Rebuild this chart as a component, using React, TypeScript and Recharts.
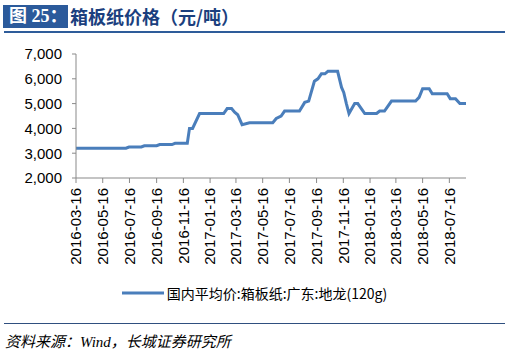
import React from 'react';
import { LineChart, Line, XAxis, YAxis, Legend } from 'recharts';

const dates = [
  '2016-03-16', '2016-07-08', '2016-07-15', '2016-08-12', '2016-08-19', '2016-09-16', '2016-09-23',
  '2016-10-21', '2016-10-28', '2016-11-25', '2016-11-30', '2016-12-07', '2016-12-23', '2017-02-16',
  '2017-02-24', '2017-03-06', '2017-03-13', '2017-03-20', '2017-03-30', '2017-04-16', '2017-06-08',
  '2017-06-16', '2017-06-27', '2017-07-05', '2017-08-08', '2017-08-20', '2017-08-29', '2017-09-11',
  '2017-09-19', '2017-09-27', '2017-10-05', '2017-10-12', '2017-11-03', '2017-11-12', '2017-11-17',
  '2017-11-23', '2017-11-29', '2017-12-12', '2017-12-19', '2018-01-04', '2018-01-31', '2018-02-07',
  '2018-02-18', '2018-03-06', '2018-04-30', '2018-05-08', '2018-05-16', '2018-05-31', '2018-06-07',
  '2018-07-11', '2018-07-18', '2018-07-30', '2018-08-09', '2018-08-23',
];

const prices = [
  3200, 3200, 3250, 3250, 3300, 3300, 3350,
  3350, 3400, 3400, 4000, 4000, 4600, 4600,
  4800, 4800, 4650, 4550, 4150, 4230, 4230,
  4400, 4500, 4700, 4700, 5050, 5100, 5900,
  6000, 6200, 6200, 6300, 6300, 5650, 5450,
  5000, 4600, 5000, 5000, 4600, 4600, 4700,
  4700, 5100, 5100, 5250, 5600, 5600, 5400,
  5400, 5200, 5200, 5000, 5000,
];

const xTickLabels = [
  '2016-03-16', '2016-05-16', '2016-07-16', '2016-09-16', '2016-11-16', '2017-01-16', '2017-03-16',
  '2017-05-16', '2017-07-16', '2017-09-16', '2017-11-16', '2018-01-16', '2018-03-16', '2018-05-16',
  '2018-07-16',
];

const yTicks = [2000, 3000, 4000, 5000, 6000, 7000];

const seriesName = '国内平均价:箱板纸:广东:地龙(120g)';
const titleLabel = '图 25：';
const titleText = '箱板纸价格（元/吨）';
const sourceText = '资料来源：Wind，长城证券研究所';

const toTs = (d: string) => Date.parse(d + 'T00:00:00Z');

const data = dates.map((d, i) => ({ t: toTs(d), v: prices[i] }));
const xTicks = xTickLabels.map(toTs);
const labelFor = (ts: number) => {
  const i = xTicks.indexOf(ts);
  return i >= 0 ? xTickLabels[i] : '';
};

const LINE_COLOR = '#4A7EBB';
const AXIS_COLOR = '#898989';
const TICK_FONT = '"Liberation Sans", Arial, sans-serif';

const XTick = (props: any) => {
  const { x, y, payload } = props;
  return (
    <text
      x={x}
      y={y}
      transform={`rotate(-90, ${x}, ${y})`}
      textAnchor="end"
      dy="0.35em"
      fontSize={15}
      fontFamily={TICK_FONT}
      fill="#000"
    >
      {labelFor(payload.value)}
    </text>
  );
};

const LegendContent = () => (
  <div style={{ display: 'flex', alignItems: 'center', justifyContent: 'center' }}>
    <svg width={42} height={8} style={{ display: 'block' }}>
      <line x1={0} y1={4} x2={42} y2={4} stroke={LINE_COLOR} strokeWidth={3} />
    </svg>
    <span
      style={{
        marginLeft: 3,
        fontSize: 14,
        fontFamily: '"Noto Sans CJK SC", "Noto Sans", sans-serif',
        color: '#000',
        lineHeight: '18px',
      }}
    >
      {seriesName}
    </span>
  </div>
);

export default function App() {
  return (
    <div
      style={{
        position: 'absolute',
        left: 0,
        top: 0,
        width: 509,
        height: 358,
        background: '#fff',
        overflow: 'hidden',
      }}
    >
      {/* title */}
      <div
        style={{
          position: 'absolute',
          left: 3,
          top: 5,
          width: 65,
          height: 23,
          background: '#2B5A9B',
          color: '#fff',
          fontWeight: 'bold',
          fontSize: 18,
          lineHeight: '23px',
          fontFamily: '"Liberation Serif", "Noto Sans CJK SC", serif',
          paddingLeft: 6,
          boxSizing: 'border-box',
          whiteSpace: 'nowrap',
        }}
      >
        {titleLabel}
      </div>
      <div
        style={{
          position: 'absolute',
          left: 70,
          top: 5,
          height: 23,
          color: '#1B3F7E',
          fontWeight: 'bold',
          fontSize: 18,
          lineHeight: '23px',
          fontFamily: '"Noto Sans CJK SC", serif',
          whiteSpace: 'nowrap',
        }}
      >
        {titleText}
      </div>
      <div
        style={{ position: 'absolute', left: 4, top: 31, width: 501, height: 2, background: '#2E5C9A' }}
      />

      {/* chart */}
      <div style={{ position: 'absolute', left: 0, top: 0 }}>
        <LineChart
          width={509}
          height={358}
          data={data}
          margin={{ top: 54, right: 43, left: 0, bottom: 80 }}
        >
          <XAxis
            dataKey="t"
            type="number"
            scale="time"
            domain={[data[0].t, data[data.length - 1].t]}
            ticks={xTicks}
            interval={0}
            height={100}
            tickSize={5}
            tickMargin={5}
            tick={<XTick />}
            stroke={AXIS_COLOR}
            tickLine={{ stroke: AXIS_COLOR }}
            allowDataOverflow
          />
          <YAxis
            type="number"
            domain={[2000, 7000]}
            ticks={yTicks}
            interval={0}
            width={76}
            tickSize={4}
            tickMargin={10}
            tickFormatter={(v: number) => v.toLocaleString('en-US')}
            tick={{ fontSize: 15, fontFamily: TICK_FONT, fill: '#000' }}
            stroke={AXIS_COLOR}
            tickLine={{ stroke: AXIS_COLOR }}
          />
          <Legend
            layout="horizontal"
            verticalAlign="middle"
            align="center"
            content={<LegendContent />}
            wrapperStyle={{ position: 'absolute', left: 0, top: 284, width: 509 }}
          />
          <Line
            type="linear"
            dataKey="v"
            name={seriesName}
            stroke={LINE_COLOR}
            strokeWidth={3}
            dot={false}
            activeDot={false}
            isAnimationActive={false}
          />
        </LineChart>
      </div>

      {/* source */}
      <div
        style={{ position: 'absolute', left: 4, top: 323, width: 501, height: 1, background: '#2F4F7F' }}
      />
      <div
        style={{
          position: 'absolute',
          left: 5,
          top: 333,
          fontSize: 15,
          fontStyle: 'italic',
          fontFamily: '"Liberation Serif", "Noto Sans CJK SC", serif',
          color: '#000',
          whiteSpace: 'nowrap',
          lineHeight: '19px',
        }}
      >
        {sourceText}
      </div>
    </div>
  );
}
